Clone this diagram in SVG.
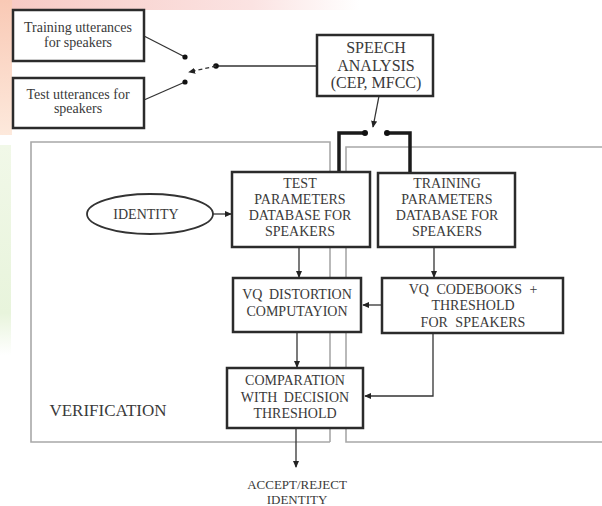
<svg xmlns="http://www.w3.org/2000/svg" width="602" height="506" viewBox="0 0 602 506">
<defs>
<linearGradient id="gPink" x1="0" y1="0" x2="1" y2="0">
<stop offset="0" stop-color="#f7c9c3"/><stop offset="0.7" stop-color="#fbe3e2"/><stop offset="1" stop-color="#ffffff"/>
</linearGradient>
<linearGradient id="gLeft" x1="0" y1="0" x2="0" y2="1">
<stop offset="0" stop-color="#f9c9b5"/><stop offset="1" stop-color="#fde9dc"/>
</linearGradient>
<linearGradient id="gGreen" x1="0" y1="0" x2="0" y2="1">
<stop offset="0" stop-color="#f1f8e8"/><stop offset="0.8" stop-color="#e8f4dc"/><stop offset="1" stop-color="#ffffff"/>
</linearGradient>
<marker id="ah" viewBox="0 0 8 8" refX="7" refY="4" markerWidth="7" markerHeight="7" markerUnits="userSpaceOnUse" orient="auto">
<path d="M0,0.5 L8,4 L0,7.5 Z" fill="#222"/>
</marker>
</defs>
<style>
.box{fill:#fff;stroke:#2b2b2b;stroke-width:2.5}
.t{font-family:"Liberation Serif","Times New Roman",serif;fill:#3a3a3a;text-anchor:middle}
.t14{font-size:14px}
.t16{font-size:16px}
.t13{font-size:13px}
.ln{fill:none;stroke:#333;stroke-width:1.3}
.thick{fill:none;stroke:#1a1a1a;stroke-width:3.5}
.region{fill:none;stroke:#a8a8a8;stroke-width:1.6}
.dot{fill:#111}
</style>
<rect width="602" height="506" fill="#fff"/>
<!-- watermark tints -->
<rect x="0" y="0" width="360" height="10" fill="url(#gPink)"/>
<rect x="0" y="0" width="12" height="135" fill="url(#gLeft)"/>
<rect x="0" y="145" width="11" height="210" fill="url(#gGreen)"/>

<!-- regions -->
<g id="regions">
<polyline class="region" points="330,442 31,442 31,142 330,142 330,442"/>
<polyline class="region" points="602,147 346,147 346,442 602,442"/>
<text class="t" x="108" y="416" font-size="17px" fill="#444">VERIFICATION</text>
</g>

<g id="connectors">
<line class="ln" x1="144" y1="36" x2="185" y2="57"/>
<line class="ln" x1="144" y1="100" x2="185" y2="82"/>
<circle class="dot" cx="185" cy="57" r="2.6"/>
<circle class="dot" cx="185" cy="82" r="2.6"/>
<line class="ln" x1="216" y1="66" x2="317" y2="66"/>
<circle class="dot" cx="216" cy="66" r="2.8"/>
<line class="ln" x1="216" y1="66" x2="189" y2="72" stroke-dasharray="4 3" marker-end="url(#ah)"/>
<line class="ln" x1="379" y1="96" x2="373" y2="127" marker-end="url(#ah)"/>
<polyline class="thick" points="365,133 339,133 339,172"/>
<polyline class="thick" points="387,133 410,133 410,173"/>
<circle class="dot" cx="365" cy="133" r="3"/>
<circle class="dot" cx="387" cy="133" r="3"/>
<line class="ln" x1="213" y1="214" x2="231" y2="214" marker-end="url(#ah)"/>
<line class="ln" x1="299" y1="247" x2="299" y2="277" marker-end="url(#ah)"/>
<line class="ln" x1="434" y1="247" x2="434" y2="277" marker-end="url(#ah)"/>
<line class="ln" x1="382" y1="305" x2="363" y2="305" marker-end="url(#ah)"/>
<line class="ln" x1="297" y1="332" x2="297" y2="367" stroke-width="1.8" marker-end="url(#ah)"/>
<polyline class="ln" points="433,333 433,396 365,396" marker-end="url(#ah)"/>
<line class="ln" x1="296" y1="428" x2="296" y2="467" stroke-width="1.6" marker-end="url(#ah)"/>
</g>

<g id="training-utterances">
<rect class="box" x="13" y="10" width="131" height="51"/>
<text class="t t14" x="78" y="32">Training utterances</text>
<text class="t t14" x="78" y="47">for speakers</text>
</g>
<g id="test-utterances">
<rect class="box" x="13" y="78" width="131" height="50"/>
<text class="t t14" x="78" y="99">Test utterances for</text>
<text class="t t14" x="78" y="113">speakers</text>
</g>
<g id="speech-analysis">
<rect class="box" x="317" y="35" width="116" height="61"/>
<text class="t t16" x="376" y="53">SPEECH</text>
<text class="t t16" x="376" y="71">ANALYSIS</text>
<text class="t t16" x="376" y="88">(CEP, MFCC)</text>
</g>
<g id="identity">
<ellipse cx="150" cy="214" rx="63" ry="20" fill="#fff" stroke="#333" stroke-width="1.8"/>
<text class="t t14" x="146" y="219">IDENTITY</text>
</g>
<g id="test-parameters">
<rect class="box" x="232" y="172" width="138" height="75"/>
<text class="t t14" x="300" y="188">TEST</text>
<text class="t t14" x="300" y="204">PARAMETERS</text>
<text class="t t14" x="300" y="220">DATABASE FOR</text>
<text class="t t14" x="300" y="236">SPEAKERS</text>
</g>
<g id="training-parameters">
<rect class="box" x="378" y="173" width="137" height="74"/>
<text class="t t14" x="447" y="188">TRAINING</text>
<text class="t t14" x="447" y="204">PARAMETERS</text>
<text class="t t14" x="447" y="220">DATABASE FOR</text>
<text class="t t14" x="447" y="236">SPEAKERS</text>
</g>
<g id="vq-distortion">
<rect class="box" x="233" y="278" width="128" height="54"/>
<text class="t t14" x="297" y="299" word-spacing="3">VQ DISTORTION</text>
<text class="t t14" x="297" y="316">COMPUTAYION</text>
</g>
<g id="vq-codebooks">
<rect class="box" x="382" y="278" width="181" height="55"/>
<text class="t t14" x="473" y="294" word-spacing="4">VQ CODEBOOKS +</text>
<text class="t t14" x="473" y="310">THRESHOLD</text>
<text class="t t14" x="473" y="327" word-spacing="4">FOR SPEAKERS</text>
</g>
<g id="comparation">
<rect class="box" x="227" y="368" width="136" height="60" stroke-width="3"/>
<text class="t t14" x="295" y="385">COMPARATION</text>
<text class="t t14" x="295" y="402" word-spacing="3">WITH DECISION</text>
<text class="t t14" x="295" y="418">THRESHOLD</text>
</g>
<g id="accept-reject">
<text class="t t13" x="297" y="489">ACCEPT/REJECT</text>
<text class="t t13" x="297" y="504">IDENTITY</text>
</g>
</svg>
